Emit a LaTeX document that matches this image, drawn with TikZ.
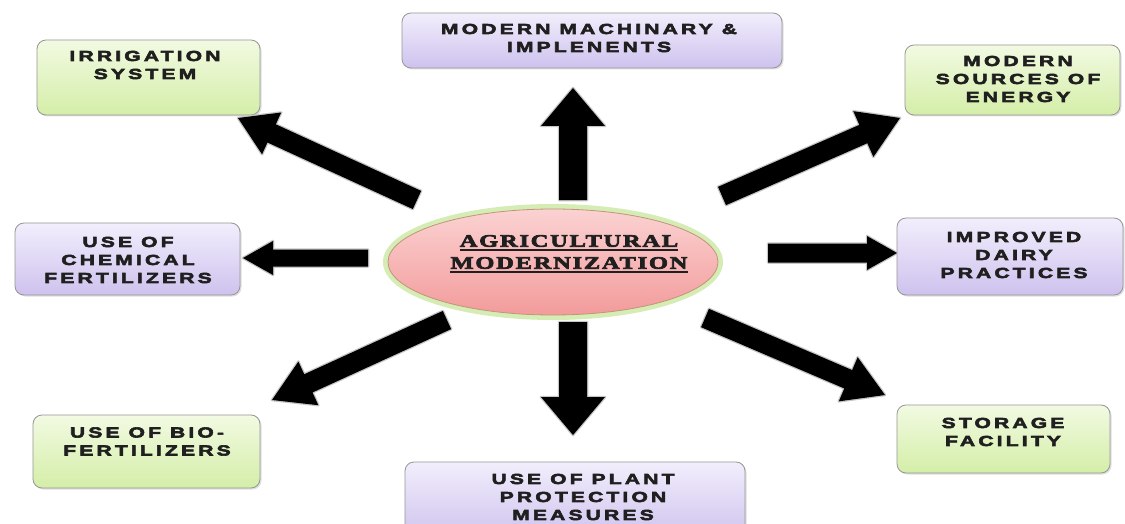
\documentclass[tikz,border=0pt]{standalone}
\usepackage{fontspec}
\usetikzlibrary{shapes.geometric,calc,shadows}
\newfontfamily\bxfont[UprightFont={* Bold},BoldFont={* Bold},FakeStretch=1.45,LetterSpace=22,FakeBold=4,
  BoldFeatures={FakeBold=4,FakeStretch=1.45,LetterSpace=22}]{Liberation Sans}
\newfontfamily\ctfont[UprightFont={* Bold},BoldFont={* Bold},FakeStretch=1.4,LetterSpace=10,FakeBold=4,
  BoldFeatures={FakeBold=4,FakeStretch=1.4,LetterSpace=10}]{Liberation Serif}
\definecolor{gtop}{RGB}{242,250,226}
\definecolor{gbot}{RGB}{212,238,168}
\definecolor{ptop}{RGB}{242,238,252}
\definecolor{pbot}{RGB}{206,194,238}
\definecolor{bord}{RGB}{150,150,150}
\definecolor{ktop}{RGB}{251,210,210}
\definecolor{kbot}{RGB}{243,155,155}
\definecolor{glow}{RGB}{196,228,150}
\definecolor{rim}{RGB}{190,150,120}
\newcommand\blockarrow[5]{%
  \coordinate (ab) at ($(#2)!#5!(#1)$);
  \path[draw=gray!45,line width=2.5pt,line join=round,fill=gray!45,shift={(1.5,1.5)}]
    ($(#1)!#3!90:(#2)$) -- ($(ab)!#3!90:(#2)$) -- ($(ab)!#4!90:(#2)$) -- (#2)
    -- ($(ab)!#4!-90:(#2)$) -- ($(ab)!#3!-90:(#2)$) -- ($(#1)!#3!-90:(#2)$) -- cycle;
  \fill[black]
    ($(#1)!#3!90:(#2)$) -- ($(ab)!#3!90:(#2)$) -- ($(ab)!#4!90:(#2)$) -- (#2)
    -- ($(ab)!#4!-90:(#2)$) -- ($(ab)!#3!-90:(#2)$) -- ($(#1)!#3!-90:(#2)$) -- cycle;}
\begin{document}
\begin{tikzpicture}[x=1pt,y=-1pt,
  box/.style={draw=bord,line width=0.8pt,rounded corners=9pt,
    drop shadow={opacity=0.25,shadow xshift=1.5pt,shadow yshift=-1.5pt}},
  gbox/.style={box,top color=gtop,bottom color=gbot},
  pbox/.style={box,top color=ptop,bottom color=pbot},
  btxt/.style={font=\bxfont\fontsize{14.5}{18}\selectfont,align=center,inner sep=0pt,text=black!88},
  ctxt/.style={font=\ctfont\fontsize{17.5}{20}\selectfont,inner sep=0pt,text=black!88}]
\useasboundingbox (0,0) rectangle (1125,524);
\clip (0,0) rectangle (1125,524);
\fill[white] (0,0) rectangle (1125,524);

% boxes
\node[gbox,minimum width=223pt,minimum height=75pt] (irr) at (148.5,77.5) {};
\node[pbox,minimum width=380pt,minimum height=55pt] (mach) at (592,40.5) {};
\node[gbox,minimum width=215pt,minimum height=70pt] (ener) at (1012.5,80) {};
\node[pbox,minimum width=225pt,minimum height=72pt] (chem) at (127.5,259) {};
\node[pbox,minimum width=226pt,minimum height=77pt] (dairy) at (1010,256.5) {};
\node[gbox,minimum width=227pt,minimum height=73pt] (bio) at (146.5,451.5) {};
\node[gbox,minimum width=213pt,minimum height=68pt] (stor) at (1003.5,439) {};
\node[pbox,minimum width=340pt,minimum height=78pt] (plant) at (575,501) {};

\node[btxt] (irrT) at (145,65) {IRRIGATION\\SYSTEM};
\node[btxt] (machT) at (589,38) {MODERN MACHINARY \&\\IMPLENENTS};
\node[btxt] (enerT) at (1018,79) {MODERN\\SOURCES OF\\ENERGY};
\node[btxt] (chemT) at (128,260) {USE OF\\CHEMICAL\\FERTILIZERS};
\node[btxt] (dairyT) at (1014,255) {IMPROVED\\DAIRY\\PRACTICES};
\node[btxt] (bioT) at (147,441.5) {USE OF BIO-\\FERTILIZERS};
\node[btxt] (storT) at (1003,432) {STORAGE\\FACILITY};
\node[btxt] (plantT) at (583,497) {USE OF PLANT\\PROTECTION\\MEASURES};

% central ellipse
\node[ellipse,draw=glow,line width=6pt,opacity=0.7,minimum width=334pt,minimum height=110pt] (glowE) at (553,262) {};
\node[ellipse,draw=rim,line width=0.8pt,top color=ktop,bottom color=kbot,minimum width=330pt,minimum height=106pt] (ell) at (553,262) {};
\node[ctxt] (ctrA) at (569,241) {AGRICULTURAL};
\node[ctxt] (ctrB) at (569,263) {MODERNIZATION};
\draw[line width=2.2pt,black!88] ([yshift=-3pt]ctrA.south west) -- ([yshift=-3pt]ctrA.south east);
\draw[line width=2.2pt,black!88] ([yshift=-3pt]ctrB.south west) -- ([yshift=-3pt]ctrB.south east);

% arrow end points
\coordinate (tU) at (573,200);  \coordinate (pU) at (573,88);
\coordinate (tD) at (573,322);  \coordinate (pD) at (573,435);
\coordinate (tI) at (417,200);  \coordinate (pI) at (238,118);
\coordinate (tE) at (722,196);  \coordinate (pE) at (900,118);
\coordinate (tC) at (368,258);  \coordinate (pC) at (243,258);
\coordinate (tR) at (768,253);  \coordinate (pR) at (897,253);
\coordinate (tB) at (447,320);  \coordinate (pB) at (272,400);
\coordinate (tS) at (705,318);  \coordinate (pS) at (885,395);

\blockarrow{tU}{pU}{14pt}{32pt}{38pt}
\blockarrow{tD}{pD}{14pt}{32pt}{38pt}
\blockarrow{tI}{pI}{10pt}{23pt}{37pt}
\blockarrow{tE}{pE}{10pt}{25pt}{40pt}
\blockarrow{tC}{pC}{8.5pt}{17pt}{30pt}
\blockarrow{tR}{pR}{9.5pt}{17pt}{30pt}
\blockarrow{tB}{pB}{10pt}{24pt}{40pt}
\blockarrow{tS}{pS}{10pt}{24pt}{40pt}
\end{tikzpicture}
\end{document}
